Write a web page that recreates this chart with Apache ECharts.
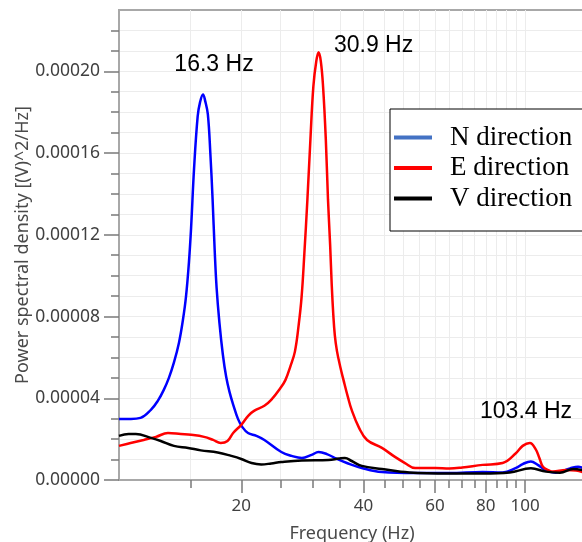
<!DOCTYPE html>
<html>
<head>
<meta charset="utf-8">
<script src="https://cdn.jsdelivr.net/npm/echarts@6/dist/echarts.min.js"></script>
<style>
html,body{margin:0;padding:0;background:#fff;}
#chart{width:582px;height:542px;}
</style>
</head>
<body>
<div id="chart"></div>
<script>
// ---- data ----
var seriesNames = ['N direction', 'E direction', 'V direction'];

var nFreq = [10.0, 10.7, 11.3, 11.98, 12.46, 12.89, 13.27, 13.65, 14.05, 14.37, 14.62, 14.87, 15.05, 15.3, 15.62, 15.83, 16.1, 16.31, 16.55, 16.79, 17.0, 17.2, 17.39, 17.67, 18.02, 18.36, 18.71, 19.11, 19.63, 20.11, 20.78, 21.8, 22.8, 25.1, 26.6, 28.2, 29.8, 31.0, 32.5, 34.4, 36.4, 39.6, 44.4, 53.6, 65.1, 78.6, 88.0, 95.0, 98.6, 103.3, 107.4, 112.5, 119, 129, 135, 140.4];
var nPsd = [2.99e-5, 2.99e-5, 3.04e-5, 3.43e-5, 3.87e-5, 4.41e-5, 5.0e-5, 5.74e-5, 6.72e-5, 7.84e-5, 8.97e-5, 1.069e-4, 1.235e-4, 1.52e-4, 1.779e-4, 1.848e-4, 1.887e-4, 1.853e-4, 1.789e-4, 1.593e-4, 1.373e-4, 1.127e-4, 9.41e-5, 7.7e-5, 6.13e-5, 5.05e-5, 4.31e-5, 3.68e-5, 2.99e-5, 2.6e-5, 2.3e-5, 2.16e-5, 1.96e-5, 1.37e-5, 1.18e-5, 1.08e-5, 1.23e-5, 1.37e-5, 1.27e-5, 1.03e-5, 8.3e-6, 5.9e-6, 3.9e-6, 3.4e-6, 3.4e-6, 3.9e-6, 3.7e-6, 5.9e-6, 7.8e-6, 9.1e-6, 7.4e-6, 4.7e-6, 3.6e-6, 5.7e-6, 6.5e-6, 5.4e-6];

var eFreq = [10.0, 10.68, 11.5, 12.33, 13.2, 14.2, 15.05, 16.2, 17.05, 17.8, 18.5, 19.1, 20.0, 20.8, 21.5, 22.8, 23.7, 25.0, 25.7, 26.4, 27.1, 27.7, 28.16, 28.6, 29.1, 29.6, 30.1, 30.6, 31.0, 31.4, 31.8, 32.3, 32.7, 33.1, 33.4, 33.7, 34.0, 34.4, 35.1, 35.7, 36.6, 37.4, 39.0, 40.8, 44.4, 47.8, 50.6, 53.6, 60.1, 65.1, 70.0, 78.6, 88.0, 95.0, 98.6, 102.7, 106.2, 108.4, 110.6, 114.4, 117, 126, 133.5, 140.4];
var ePsd = [1.67e-5, 1.81e-5, 1.96e-5, 2.11e-5, 2.3e-5, 2.25e-5, 2.21e-5, 2.11e-5, 1.96e-5, 1.81e-5, 1.91e-5, 2.3e-5, 2.7e-5, 3.14e-5, 3.38e-5, 3.63e-5, 3.92e-5, 4.51e-5, 4.9e-5, 5.54e-5, 6.27e-5, 7.6e-5, 8.97e-5, 1.108e-4, 1.373e-4, 1.667e-4, 1.926e-4, 2.049e-4, 2.093e-4, 2.049e-4, 1.926e-4, 1.667e-4, 1.373e-4, 1.152e-4, 9.56e-5, 8.09e-5, 7.06e-5, 6.32e-5, 5.49e-5, 4.9e-5, 4.07e-5, 3.43e-5, 2.55e-5, 1.96e-5, 1.57e-5, 1.13e-5, 8.3e-6, 5.9e-6, 5.9e-6, 5.6e-6, 6.1e-6, 7.4e-6, 8.3e-6, 1.32e-5, 1.67e-5, 1.81e-5, 1.5e-5, 1.08e-5, 6.5e-6, 4.7e-6, 4.1e-6, 4.9e-6, 4.6e-6, 3.4e-6];

var vFreq = [10.0, 10.56, 11.0, 11.98, 12.67, 13.65, 14.8, 15.9, 17.5, 18.9, 20.0, 21.2, 22.4, 23.7, 25.1, 28.2, 32.8, 34.8, 36.0, 37.4, 39.6, 44.4, 51.8, 65.1, 78.6, 91.6, 103.3, 112.5, 121.8, 131.2, 140.4];
var vPsd = [2.16e-5, 2.25e-5, 2.25e-5, 2.06e-5, 1.91e-5, 1.67e-5, 1.57e-5, 1.45e-5, 1.35e-5, 1.18e-5, 1.03e-5, 8.3e-6, 7.6e-6, 8.1e-6, 8.8e-6, 9.6e-6, 9.8e-6, 1.05e-5, 1.08e-5, 9.3e-6, 6.9e-6, 5.4e-6, 3.7e-6, 3.2e-6, 3.2e-6, 3.7e-6, 5.7e-6, 4.1e-6, 3.6e-6, 5.4e-6, 4.6e-6];

// tick labels / tick positions
var xLabelTicks = [20, 40, 60, 80, 100];
var xMinorTicks = [15, 20, 25, 30, 35, 40, 45, 50, 55, 60, 65, 70, 75, 80, 85, 90, 95, 100];
var yLabelTicks = [0, 0.00004, 0.00008, 0.00012, 0.00016, 0.00020];
var yMinorTicks = [0, 0.00001, 0.00002, 0.00003, 0.00004, 0.00005, 0.00006, 0.00007, 0.00008, 0.00009, 0.00010, 0.00011, 0.00012, 0.00013, 0.00014, 0.00015, 0.00016, 0.00017, 0.00018, 0.00019, 0.00020, 0.00021, 0.00022];

// peak annotations
var peakLabels = ['16.3 Hz', '30.9 Hz', '103.4 Hz'];
var thirdPeakFreq = 103.4;

function pairs(f, v) { return f.map(function (x, i) { return [x, v[i]]; }); }
var thirdPeakVal = Math.max.apply(null, ePsd.filter(function (v, i) { return eFreq[i] > 90; }));

var axisGray = '#a8a8a8';
var tickGray = '#7a7a7a';
var gridGray = '#ececec';
var uiFont = 'Noto Sans';

var chart = echarts.init(document.getElementById('chart'));
var annotLabel = { show: true, position: 'inside', fontFamily: 'Liberation Sans', fontSize: 23, color: '#000' };
var lineCommon = { type: 'line', xAxisIndex: 0, yAxisIndex: 0, smooth: 0.4, showSymbol: false };

chart.setOption({
  animation: false,
  grid: { left: 119, top: 10, right: -3, bottom: 62, show: true, borderColor: axisGray, borderWidth: 2,
          backgroundColor: 'transparent', containLabel: false, outerBoundsMode: 'none' },
  legend: {
    orient: 'vertical', left: 390, top: 109,
    selectedMode: false,
    backgroundColor: '#fff', borderColor: '#000', borderWidth: 1,
    padding: [15, 25, 19, 4],
    itemWidth: 38, itemHeight: 4, itemGap: 3.5,
    icon: 'rect',
    textStyle: { fontFamily: 'Liberation Serif', fontSize: 27, lineHeight: 26, color: '#000', padding: [0, 0, 0, 13] },
    data: [
      { name: seriesNames[0], itemStyle: { color: '#4472C4' } },
      { name: seriesNames[1], itemStyle: { color: '#FF0000' } },
      { name: seriesNames[2], itemStyle: { color: '#000000' } }
    ]
  },
  xAxis: [
    {
      type: 'log', logBase: 10, min: 10, max: 140.4, position: 'bottom',
      name: 'Frequency (Hz)', nameLocation: 'middle', nameGap: 45, nameMoveOverlap: false,
      nameTextStyle: { fontFamily: uiFont, fontSize: 18, color: '#4a4a4a' },
      axisLine: { show: true, lineStyle: { color: axisGray, width: 2 } },
      axisTick: { show: true, customValues: xLabelTicks, length: 13, lineStyle: { color: tickGray, width: 1.5 } },
      axisLabel: { customValues: xLabelTicks, margin: 18, fontFamily: uiFont, fontSize: 17, color: '#404040',
        formatter: function (v) { return String(Math.round(v)); } },
      splitLine: { show: false }, minorTick: { show: false }, minorSplitLine: { show: false }
    },
    {
      type: 'log', logBase: 10, min: 10, max: 140.4, position: 'bottom',
      axisLine: { show: false },
      axisTick: { show: true, customValues: xMinorTicks, length: 8, lineStyle: { color: tickGray, width: 1.5 } },
      axisLabel: { show: false },
      splitLine: { show: true, lineStyle: { color: gridGray, width: 1 } }
    }
  ],
  yAxis: [
    {
      type: 'value', min: 0, max: 0.00023, position: 'left',
      name: 'Power spectral density [(V)^2/Hz]', nameLocation: 'middle', nameGap: 87, nameMoveOverlap: false,
      nameTextStyle: { fontFamily: uiFont, fontSize: 18, color: '#4a4a4a' },
      axisLine: { show: true, lineStyle: { color: axisGray, width: 2 } },
      axisTick: { show: true, customValues: yLabelTicks, length: 15, lineStyle: { color: tickGray, width: 1.5 } },
      axisLabel: { customValues: yLabelTicks, margin: 19, fontFamily: uiFont, fontSize: 17.5, color: '#404040',
        formatter: function (v) { return v.toFixed(5); } },
      splitLine: { show: false }
    },
    {
      type: 'value', min: 0, max: 0.00023, position: 'left',
      axisLine: { show: false },
      axisTick: { show: true, customValues: yMinorTicks, length: 8, lineStyle: { color: tickGray, width: 1.5 } },
      axisLabel: { show: false },
      splitLine: { show: true, lineStyle: { color: gridGray, width: 1 } }
    }
  ],
  series: [
    Object.assign({}, lineCommon, {
      name: seriesNames[0], data: pairs(nFreq, nPsd),
      lineStyle: { color: '#0000FF', width: 2.5 }, itemStyle: { color: '#0000FF' },
      markPoint: {
        symbol: 'circle', symbolSize: 0, silent: true, itemStyle: { color: 'transparent' },
        data: [{ type: 'max', label: Object.assign({}, annotLabel, { formatter: peakLabels[0], offset: [11, -30] }) }]
      }
    }),
    Object.assign({}, lineCommon, {
      name: seriesNames[1], data: pairs(eFreq, ePsd),
      lineStyle: { color: '#FF0000', width: 2.5 }, itemStyle: { color: '#FF0000' },
      markPoint: {
        symbol: 'circle', symbolSize: 0, silent: true, itemStyle: { color: 'transparent' },
        data: [
          { type: 'max', label: Object.assign({}, annotLabel, { formatter: peakLabels[1], offset: [55, -7] }) },
          { coord: [thirdPeakFreq, thirdPeakVal], label: Object.assign({}, annotLabel, { formatter: peakLabels[2], offset: [-5, -31] }) }
        ]
      }
    }),
    Object.assign({}, lineCommon, {
      name: seriesNames[2], data: pairs(vFreq, vPsd),
      lineStyle: { color: '#000000', width: 2.5 }, itemStyle: { color: '#000000' }
    })
  ]
});
</script>
</body>
</html>
